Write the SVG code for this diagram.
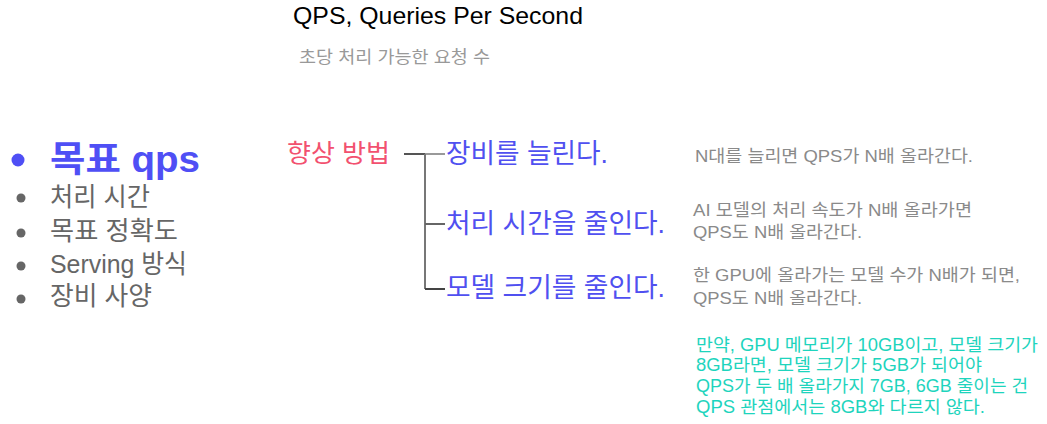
<svg xmlns="http://www.w3.org/2000/svg" width="1047" height="424" viewBox="0 0 1047 424">
<style>
text{font-family:"Liberation Sans","Noto Sans CJK KR",sans-serif}
.title{font-size:24.5px;fill:#000}
.sub{font-size:17px;fill:#999}
.main{font-size:36px;font-weight:bold;fill:#4f4ff5}
.item{font-size:26px;fill:#666}
.head{font-size:25px;fill:#f2516f}
.branch{font-size:27px;fill:#5050f0}
.note{font-size:17px;fill:#8a8a8a}
.green{font-size:17.5px;fill:#1ed4bd}
.ln{stroke-width:2;fill:none}
</style>
<rect width="1047" height="424" fill="#fff"/>
<g id="title">
<text class="title" x="293" y="24" textLength="290" lengthAdjust="spacingAndGlyphs">QPS, Queries Per Second</text>
<text class="sub" x="299" y="63" textLength="191" lengthAdjust="spacingAndGlyphs">초당 처리 가능한 요청 수</text>
</g>
<g id="list">
<circle cx="18" cy="160" r="6.5" fill="#4f4ff5"/>
<text class="main" x="50" y="172" textLength="150" lengthAdjust="spacingAndGlyphs">목표 qps</text>
<circle cx="21" cy="198" r="4.5" fill="#666"/>
<text class="item" x="50" y="206" textLength="100" lengthAdjust="spacingAndGlyphs">처리 시간</text>
<circle cx="21" cy="233" r="4.5" fill="#666"/>
<text class="item" x="50" y="240" textLength="128" lengthAdjust="spacingAndGlyphs">목표 정확도</text>
<circle cx="21" cy="266" r="4.5" fill="#666"/>
<text class="item" x="50" y="273" textLength="137" lengthAdjust="spacingAndGlyphs">Serving 방식</text>
<circle cx="21" cy="299" r="4.5" fill="#666"/>
<text class="item" x="50" y="305" textLength="102" lengthAdjust="spacingAndGlyphs">장비 사양</text>
</g>
<g id="head"><text class="head" x="287" y="162" textLength="103" lengthAdjust="spacingAndGlyphs">향상 방법</text></g>
<g id="connectors">
<path class="ln" stroke="#555" d="M404 154H425"/>
<path class="ln" stroke="#999" d="M425 154H445"/>
<path class="ln" stroke="#777" d="M425 154V289"/>
<path class="ln" stroke="#666" d="M425 224H445"/>
<path class="ln" stroke="#444" d="M425 289H445"/>
</g>
<g id="b1"><text class="branch" x="446" y="163" textLength="162" lengthAdjust="spacingAndGlyphs">장비를 늘린다.</text></g>
<g id="b2"><text class="branch" x="446" y="233" textLength="219" lengthAdjust="spacingAndGlyphs">처리 시간을 줄인다.</text></g>
<g id="b3"><text class="branch" x="446" y="297" textLength="219" lengthAdjust="spacingAndGlyphs">모델 크기를 줄인다.</text></g>
<g id="n1"><text class="note" x="695" y="162" textLength="278" lengthAdjust="spacingAndGlyphs">N대를 늘리면 QPS가 N배 올라간다.</text></g>
<g id="n2"><text class="note" x="693" y="216" textLength="279" lengthAdjust="spacingAndGlyphs">AI 모델의 처리 속도가 N배 올라가면</text>
<text class="note" x="693" y="238" textLength="169" lengthAdjust="spacingAndGlyphs">QPS도 N배 올라간다.</text></g>
<g id="n3"><text class="note" x="693" y="281" textLength="327" lengthAdjust="spacingAndGlyphs">한 GPU에 올라가는 모델 수가 N배가 되면,</text>
<text class="note" x="693" y="304" textLength="169" lengthAdjust="spacingAndGlyphs">QPS도 N배 올라간다.</text></g>
<g id="n4">
<text class="green" x="696" y="351" textLength="342" lengthAdjust="spacingAndGlyphs">만약, GPU 메모리가 10GB이고, 모델 크기가</text>
<text class="green" x="696" y="371" textLength="286" lengthAdjust="spacingAndGlyphs">8GB라면, 모델 크기가 5GB가 되어야</text>
<text class="green" x="696" y="392" textLength="332" lengthAdjust="spacingAndGlyphs">QPS가 두 배 올라가지 7GB, 6GB 줄이는 건</text>
<text class="green" x="696" y="413" textLength="289" lengthAdjust="spacingAndGlyphs">QPS 관점에서는 8GB와 다르지 않다.</text>
</g>
</svg>
